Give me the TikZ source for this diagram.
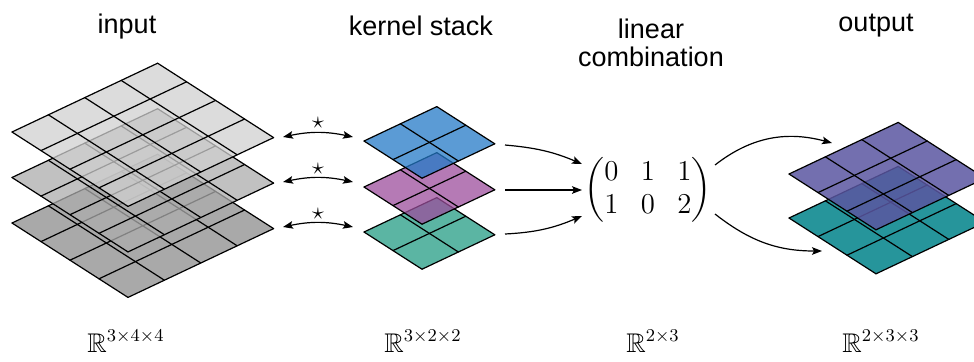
\documentclass[tikz,border=0pt]{standalone}
\usepackage{amsmath,amssymb}
\usepackage{fontspec}
\newfontfamily\labelfont{Liberation Sans}
\usetikzlibrary{arrows.meta}

% fill colours of the layers (seen through their own transparency)
\definecolor{inTop}{RGB}{208,208,208}
\definecolor{inMid}{RGB}{172,172,172}
\definecolor{inBot}{RGB}{140,140,140}
\definecolor{kBlue}{RGB}{36,122,199}
\definecolor{kMag}{RGB}{156,78,156}
\definecolor{kTeal}{RGB}{36,156,132}
\definecolor{oPurple}{RGB}{90,86,161}
\definecolor{oTeal}{RGB}{0,131,137}

\tikzset{
  layerline/.style={line width=0.6pt, line cap=round, line join=round},
  conn/.style={line width=0.6pt, -{Stealth[length=5pt,width=3.8pt,inset=1pt]}},
  dconn/.style={line width=0.6pt, {Stealth[length=5pt,width=3.8pt,inset=1pt]}-{Stealth[length=5pt,width=3.8pt,inset=1pt]}},
  title/.style={font=\labelfont\fontsize{13.5}{14}\selectfont, inner sep=0pt, align=center},
  dimlabel/.style={font=\fontsize{13.5}{16}\selectfont, anchor=base, inner sep=0pt},
  startag/.style={font=\fontsize{12}{12}\selectfont, inner sep=0pt},
}

% a skewed n x n grid layer: name, left corner, cells, colour, opacity
\newcommand\gridlayer[5]{%
  \begin{scope}[shift={#2}, x={(14.5pt,-9.3pt)}, y={(18.2pt,8.6pt)}]
    \fill[#4, fill opacity=#5] (0,0) -- (#3,0) -- (#3,#3) -- (0,#3) -- cycle;
    \foreach \k in {0,...,#3} {
      \draw[layerline] (\k,0) -- (\k,#3);
      \draw[layerline] (0,\k) -- (#3,\k);
    }
    \coordinate (#1-l) at (0,0);
    \coordinate (#1-b) at (#3,0);
    \coordinate (#1-r) at (#3,#3);
    \coordinate (#1-t) at (0,#3);
  \end{scope}}

\begin{document}
\begin{tikzpicture}[x=0.5pt, y=-0.5pt]
  \useasboundingbox (0,0) rectangle (974,361);

  % input: three 4x4 channels
  \gridlayer{in3}{(12,223)}{4}{inBot}{0.75}
  \gridlayer{in2}{(12,177.5)}{4}{inMid}{0.75}
  \gridlayer{in1}{(12,132)}{4}{inTop}{0.75}

  % kernel stack: three 2x2 kernels
  \gridlayer{k3}{(364,232)}{2}{kTeal}{0.75}
  \gridlayer{k2}{(364,187)}{2}{kMag}{0.75}
  \gridlayer{k1}{(364,141)}{2}{kBlue}{0.75}

  % output: two 3x3 channels
  \gridlayer{o2}{(789,218)}{3}{oTeal}{0.85}
  \gridlayer{o1}{(789,174)}{3}{oPurple}{0.85}

  % correlation arrows between input and kernels
  \coordinate (s1a) at (283,137); \coordinate (s1b) at (353,137);
  \coordinate (s2a) at (283,182); \coordinate (s2b) at (353,182);
  \coordinate (s3a) at (283,227); \coordinate (s3b) at (353,227);
  \draw[dconn] (s1a) to[out=12, in=168] (s1b);
  \draw[dconn] (s2a) to[out=12, in=168] (s2b);
  \draw[dconn] (s3a) to[out=12, in=168] (s3b);
  \node[startag] (st1) at (318,123) {$\star$};
  \node[startag] (st2) at (318,168.5) {$\star$};
  \node[startag] (st3) at (318,214) {$\star$};

  % combination matrix
  \node[inner sep=0pt, font=\fontsize{13.5}{16.5}\selectfont] (M) at (648,190)
    {$\setlength{\arraycolsep}{5.6pt}\begin{pmatrix}0&1&1\\1&0&2\end{pmatrix}$};

  % kernels into the matrix
  \coordinate (c1a) at (505,145); \coordinate (c1b) at (582,164);
  \coordinate (c2a) at (505,190); \coordinate (c2b) at (582,190);
  \coordinate (c3a) at (505,234); \coordinate (c3b) at (582,216);
  \draw[conn] (c1a) to[out=-5, in=157] (c1b);
  \draw[conn] (c2a) -- (c2b);
  \draw[conn] (c3a) to[out=3, in=-157] (c3b);

  % matrix into the output channels
  \coordinate (m1a) at (715,165); \coordinate (m1b) at (832,143);
  \coordinate (m2a) at (715,214); \coordinate (m2b) at (822,251);
  \draw[conn] (m1a) to[out=38, in=165] (m1b);
  \draw[conn] (m2a) to[out=-38, in=180] (m2b);

  % column titles
  \node[title, anchor=base] (tin) at (127,33) {input};
  \node[title, anchor=base] (tker) at (421,35) {kernel stack};
  \node[title] (tlin) at (651,43) {linear\\combination};
  \node[title, anchor=base] (tout) at (876,31) {output};

  % dimensions
  \node[dimlabel] (d1) at (126,352) {$\mathbb{R}^{3\times4\times4}$};
  \node[dimlabel] (d2) at (423,352) {$\mathbb{R}^{3\times2\times2}$};
  \node[dimlabel] (d3) at (653,352) {$\mathbb{R}^{2\times3}$};
  \node[dimlabel] (d4) at (881,352) {$\mathbb{R}^{2\times3\times3}$};
\end{tikzpicture}
\end{document}
